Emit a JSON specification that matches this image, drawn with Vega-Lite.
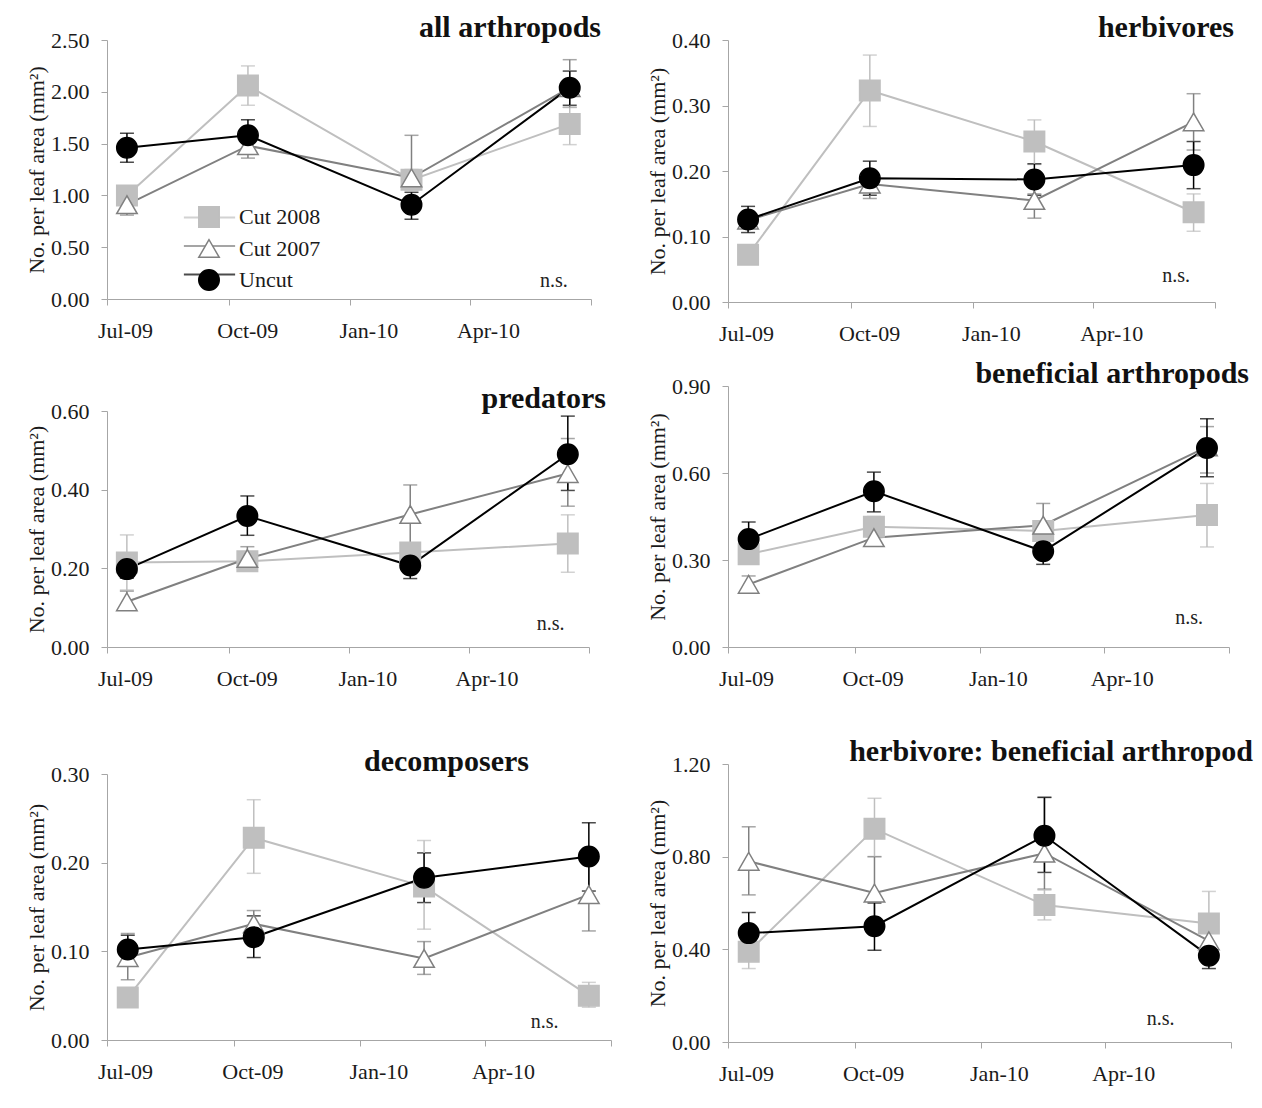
{
"$schema": "https://vega.github.io/schema/vega-lite/v6.json",
"padding": {"left": 25, "top": 13, "right": 5, "bottom": 5},
"background": "white",
"config": {
 "font": "Liberation Serif",
 "view": {"stroke": null},
 "axis": {"labelFont": "Liberation Serif", "labelFontSize": 22, "labelColor": "#1a1a1a", "titleFont": "Liberation Serif", "titleFontSize": 22, "titleFontWeight": "normal", "titleColor": "#1a1a1a", "domainColor": "#a6a6a6", "tickColor": "#a6a6a6", "grid": false, "tickSize": 6},
 "axisY": {"labelPadding": 12, "titlePadding": 2},
 "axisX": {"labelPadding": 15},
 "title": {"font": "Liberation Serif", "fontSize": 30, "fontWeight": "bold", "color": "#111111"}
},
"datasets": {"obs": [
{"panel":"all arthropods","series":"Cut 2008","date":"2009-07-02","mean":1.00,"lo":0.95,"hi":1.05},
{"panel":"all arthropods","series":"Cut 2008","date":"2009-10-01","mean":2.06,"lo":1.87,"hi":2.25},
{"panel":"all arthropods","series":"Cut 2008","date":"2010-02-01","mean":1.15,"lo":1.05,"hi":1.25},
{"panel":"all arthropods","series":"Cut 2008","date":"2010-05-31","mean":1.69,"lo":1.49,"hi":1.85},
{"panel":"all arthropods","series":"Cut 2007","date":"2009-07-02","mean":0.91,"lo":0.81,"hi":1.00},
{"panel":"all arthropods","series":"Cut 2007","date":"2009-10-01","mean":1.48,"lo":1.36,"hi":1.58},
{"panel":"all arthropods","series":"Cut 2007","date":"2010-02-01","mean":1.17,"lo":1.07,"hi":1.58},
{"panel":"all arthropods","series":"Cut 2007","date":"2010-05-31","mean":2.04,"lo":1.85,"hi":2.31},
{"panel":"all arthropods","series":"Uncut","date":"2009-07-02","mean":1.46,"lo":1.32,"hi":1.60},
{"panel":"all arthropods","series":"Uncut","date":"2009-10-01","mean":1.58,"lo":1.45,"hi":1.73},
{"panel":"all arthropods","series":"Uncut","date":"2010-02-01","mean":0.91,"lo":0.77,"hi":1.03},
{"panel":"all arthropods","series":"Uncut","date":"2010-05-31","mean":2.04,"lo":1.87,"hi":2.20},
{"panel":"herbivores","series":"Cut 2008","date":"2009-07-02","mean":0.072,"lo":0.066,"hi":0.078},
{"panel":"herbivores","series":"Cut 2008","date":"2009-10-01","mean":0.323,"lo":0.268,"hi":0.377},
{"panel":"herbivores","series":"Cut 2008","date":"2010-02-01","mean":0.245,"lo":0.21,"hi":0.278},
{"panel":"herbivores","series":"Cut 2008","date":"2010-05-31","mean":0.137,"lo":0.108,"hi":0.165},
{"panel":"herbivores","series":"Cut 2007","date":"2009-07-02","mean":0.125,"lo":0.115,"hi":0.135},
{"panel":"herbivores","series":"Cut 2007","date":"2009-10-01","mean":0.180,"lo":0.158,"hi":0.195},
{"panel":"herbivores","series":"Cut 2007","date":"2010-02-01","mean":0.155,"lo":0.128,"hi":0.165},
{"panel":"herbivores","series":"Cut 2007","date":"2010-05-31","mean":0.275,"lo":0.232,"hi":0.318},
{"panel":"herbivores","series":"Uncut","date":"2009-07-02","mean":0.126,"lo":0.106,"hi":0.146},
{"panel":"herbivores","series":"Uncut","date":"2009-10-01","mean":0.189,"lo":0.163,"hi":0.215},
{"panel":"herbivores","series":"Uncut","date":"2010-02-01","mean":0.187,"lo":0.163,"hi":0.211},
{"panel":"herbivores","series":"Uncut","date":"2010-05-31","mean":0.209,"lo":0.173,"hi":0.245},
{"panel":"predators","series":"Cut 2008","date":"2009-07-02","mean":0.215,"lo":0.145,"hi":0.285},
{"panel":"predators","series":"Cut 2008","date":"2009-10-01","mean":0.218,"lo":0.20,"hi":0.24},
{"panel":"predators","series":"Cut 2008","date":"2010-02-01","mean":0.24,"lo":0.22,"hi":0.26},
{"panel":"predators","series":"Cut 2008","date":"2010-05-31","mean":0.263,"lo":0.19,"hi":0.336},
{"panel":"predators","series":"Cut 2007","date":"2009-07-02","mean":0.115,"lo":0.10,"hi":0.142},
{"panel":"predators","series":"Cut 2007","date":"2009-10-01","mean":0.225,"lo":0.20,"hi":0.255},
{"panel":"predators","series":"Cut 2007","date":"2010-02-01","mean":0.337,"lo":0.26,"hi":0.412},
{"panel":"predators","series":"Cut 2007","date":"2010-05-31","mean":0.441,"lo":0.358,"hi":0.53},
{"panel":"predators","series":"Uncut","date":"2009-07-02","mean":0.198,"lo":0.175,"hi":0.22},
{"panel":"predators","series":"Uncut","date":"2009-10-01","mean":0.333,"lo":0.284,"hi":0.384},
{"panel":"predators","series":"Uncut","date":"2010-02-01","mean":0.207,"lo":0.174,"hi":0.23},
{"panel":"predators","series":"Uncut","date":"2010-05-31","mean":0.49,"lo":0.398,"hi":0.587},
{"panel":"beneficial arthropods","series":"Cut 2008","date":"2009-07-02","mean":0.32,"lo":0.29,"hi":0.35},
{"panel":"beneficial arthropods","series":"Cut 2008","date":"2009-10-01","mean":0.415,"lo":0.38,"hi":0.45},
{"panel":"beneficial arthropods","series":"Cut 2008","date":"2010-02-01","mean":0.40,"lo":0.37,"hi":0.43},
{"panel":"beneficial arthropods","series":"Cut 2008","date":"2010-05-31","mean":0.455,"lo":0.345,"hi":0.564},
{"panel":"beneficial arthropods","series":"Cut 2007","date":"2009-07-02","mean":0.216,"lo":0.19,"hi":0.245},
{"panel":"beneficial arthropods","series":"Cut 2007","date":"2009-10-01","mean":0.377,"lo":0.35,"hi":0.40},
{"panel":"beneficial arthropods","series":"Cut 2007","date":"2010-02-01","mean":0.42,"lo":0.37,"hi":0.495},
{"panel":"beneficial arthropods","series":"Cut 2007","date":"2010-05-31","mean":0.69,"lo":0.60,"hi":0.76},
{"panel":"beneficial arthropods","series":"Uncut","date":"2009-07-02","mean":0.372,"lo":0.33,"hi":0.431},
{"panel":"beneficial arthropods","series":"Uncut","date":"2009-10-01","mean":0.537,"lo":0.466,"hi":0.603},
{"panel":"beneficial arthropods","series":"Uncut","date":"2010-02-01","mean":0.33,"lo":0.285,"hi":0.36},
{"panel":"beneficial arthropods","series":"Uncut","date":"2010-05-31","mean":0.686,"lo":0.587,"hi":0.787},
{"panel":"decomposers","series":"Cut 2008","date":"2009-07-02","mean":0.048,"lo":0.04,"hi":0.056},
{"panel":"decomposers","series":"Cut 2008","date":"2009-10-01","mean":0.228,"lo":0.188,"hi":0.271},
{"panel":"decomposers","series":"Cut 2008","date":"2010-02-01","mean":0.173,"lo":0.125,"hi":0.225},
{"panel":"decomposers","series":"Cut 2008","date":"2010-05-31","mean":0.05,"lo":0.037,"hi":0.065},
{"panel":"decomposers","series":"Cut 2007","date":"2009-07-02","mean":0.093,"lo":0.068,"hi":0.12},
{"panel":"decomposers","series":"Cut 2007","date":"2009-10-01","mean":0.131,"lo":0.115,"hi":0.146},
{"panel":"decomposers","series":"Cut 2007","date":"2010-02-01","mean":0.092,"lo":0.074,"hi":0.111},
{"panel":"decomposers","series":"Cut 2007","date":"2010-05-31","mean":0.164,"lo":0.123,"hi":0.205},
{"panel":"decomposers","series":"Uncut","date":"2009-07-02","mean":0.102,"lo":0.088,"hi":0.118},
{"panel":"decomposers","series":"Uncut","date":"2009-10-01","mean":0.116,"lo":0.093,"hi":0.14},
{"panel":"decomposers","series":"Uncut","date":"2010-02-01","mean":0.183,"lo":0.155,"hi":0.211},
{"panel":"decomposers","series":"Uncut","date":"2010-05-31","mean":0.207,"lo":0.168,"hi":0.245},
{"panel":"herbivore: beneficial arthropod","series":"Cut 2008","date":"2009-07-02","mean":0.39,"lo":0.317,"hi":0.43},
{"panel":"herbivore: beneficial arthropod","series":"Cut 2008","date":"2009-10-01","mean":0.92,"lo":0.80,"hi":1.052},
{"panel":"herbivore: beneficial arthropod","series":"Cut 2008","date":"2010-02-01","mean":0.591,"lo":0.527,"hi":0.656},
{"panel":"herbivore: beneficial arthropod","series":"Cut 2008","date":"2010-05-31","mean":0.512,"lo":0.38,"hi":0.65},
{"panel":"herbivore: beneficial arthropod","series":"Cut 2007","date":"2009-07-02","mean":0.78,"lo":0.635,"hi":0.929},
{"panel":"herbivore: beneficial arthropod","series":"Cut 2007","date":"2009-10-01","mean":0.643,"lo":0.49,"hi":0.80},
{"panel":"herbivore: beneficial arthropod","series":"Cut 2007","date":"2010-02-01","mean":0.815,"lo":0.66,"hi":1.056},
{"panel":"herbivore: beneficial arthropod","series":"Cut 2007","date":"2010-05-31","mean":0.437,"lo":0.37,"hi":0.50},
{"panel":"herbivore: beneficial arthropod","series":"Uncut","date":"2009-07-02","mean":0.47,"lo":0.39,"hi":0.559},
{"panel":"herbivore: beneficial arthropod","series":"Uncut","date":"2009-10-01","mean":0.50,"lo":0.396,"hi":0.60},
{"panel":"herbivore: beneficial arthropod","series":"Uncut","date":"2010-02-01","mean":0.89,"lo":0.732,"hi":1.056},
{"panel":"herbivore: beneficial arthropod","series":"Uncut","date":"2010-05-31","mean":0.372,"lo":0.317,"hi":0.41}
]},
"resolve": {"scale": {"color": "independent", "fill": "independent", "stroke": "independent", "shape": "independent"}},
"spacing": 17,
"hconcat": [
{"spacing": 43,
 "resolve": {"scale": {"color": "independent", "fill": "independent", "stroke": "independent", "shape": "independent"}},
 "vconcat": [
 {"width": 484, "height": 259,
  "title": {"text": "all arthropods", "anchor": "end", "frame": "group", "dx": 10, "offset": -38, "baseline": "alphabetic"},
  "data": {"name": "obs"},
  "transform": [{"filter": "datum.panel === 'all arthropods'"}],
  "encoding": {
   "x": {"field": "date", "type": "temporal", "title": null, "scale": {"type": "utc", "domain": [{"year": 2009, "month": 6, "date": 17, "utc": true}, {"year": 2010, "month": 6, "date": 16, "utc": true}]}, "axis": {"values": [{"year": 2009, "month": 6, "date": 17, "utc": true}, {"year": 2009, "month": 9, "date": 17, "utc": true}, {"year": 2009, "month": 12, "date": 17, "utc": true}, {"year": 2010, "month": 3, "date": 17, "utc": true}, {"year": 2010, "month": 6, "date": 16, "utc": true}], "labelExpr": "datum.value > 1275000000000 ? '' : utcFormat(datum.value + 1296000000, '%b-%y')", "labelOffset": 18, "labelFlush": false, "labelOverlap": false}},
   "y": {"field": "mean", "type": "quantitative", "title": "No. per leaf area (mm²)", "scale": {"domain": [0, 2.5]}, "axis": {"values": [0, 0.5, 1, 1.5, 2, 2.5], "format": ".2f"}}
  },
  "layer": [
   {"mark": {"type": "errorbar", "ticks": {"size": 14}, "thickness": 1.5},
    "encoding": {"y": {"field": "lo", "type": "quantitative", "title": "No. per leaf area (mm²)", "scale": {"domain": [0, 2.5]}, "axis": {"values": [0, 0.5, 1, 1.5, 2, 2.5], "format": ".2f"}}, "y2": {"field": "hi"},
     "color": {"field": "series", "type": "nominal", "sort": ["Cut 2008", "Cut 2007", "Uncut"], "scale": {"range": ["#bfbfbf", "#808080", "#000000"]}}}},
   {"mark": {"type": "line", "strokeWidth": 2},
    "encoding": {"color": {"field": "series", "type": "nominal", "sort": ["Cut 2008", "Cut 2007", "Uncut"], "scale": {"range": ["#bfbfbf", "#808080", "#000000"]},
     "legend": {"orient": "none", "legendX": 91, "legendY": 166, "title": null, "symbolType": "M-2.5,0H2.5", "symbolSize": 420, "symbolStrokeWidth": 2, "symbolFillColor": "transparent", "labelFontSize": 22, "labelFont": "Liberation Serif", "labelColor": "transparent", "labelExpr": "''", "labelOffset": 19, "rowPadding": 5.5, "padding": 0}}}},
   {"mark": {"type": "point", "filled": true, "size": 420, "strokeWidth": 1.5, "opacity": 1},
    "encoding": {
     "shape": {"field": "series", "type": "nominal", "scale": {"domain": ["Cut 2008", "Cut 2007", "Uncut"], "range": ["square", "triangle-up", "circle"]},
      "legend": {"orient": "none", "legendX": 91, "legendY": 166, "title": null, "symbolSize": 420, "symbolStrokeWidth": 1.5, "labelFontSize": 22, "labelFont": "Liberation Serif", "labelColor": "#1a1a1a", "labelOffset": 19, "rowPadding": 5.5, "padding": 0}},
     "fill": {"field": "series", "type": "nominal", "scale": {"domain": ["Cut 2008", "Cut 2007", "Uncut"], "range": ["#bfbfbf", "#ffffff", "#000000"]}},
     "stroke": {"field": "series", "type": "nominal", "scale": {"domain": ["Cut 2008", "Cut 2007", "Uncut"], "range": ["#bfbfbf", "#808080", "#000000"]}}}},
   {"transform": [{"window": [{"op": "row_number", "as": "rn"}]}, {"filter": "datum.rn === 1"}],
    "mark": {"type": "text", "fontSize": 20, "font": "Liberation Serif", "color": "#222222", "text": "n.s."},
    "encoding": {"x": {"datum": {"year": 2010, "month": 5, "date": 19, "utc": true}, "type": "temporal"}, "y": {"datum": 0.17, "type": "quantitative"}}}
  ]},
 {"spacing": 58,
  "resolve": {"scale": {"color": "independent", "fill": "independent", "stroke": "independent", "shape": "independent"}},
  "vconcat": [
  {"width": 482, "height": 236,
   "title": {"text": "predators", "anchor": "end", "frame": "group", "dx": 17, "offset": -38, "baseline": "alphabetic"},
   "data": {"name": "obs"},
   "transform": [{"filter": "datum.panel === 'predators'"}],
   "encoding": {
    "x": {"field": "date", "type": "temporal", "title": null, "scale": {"type": "utc", "domain": [{"year": 2009, "month": 6, "date": 17, "utc": true}, {"year": 2010, "month": 6, "date": 16, "utc": true}]}, "axis": {"values": [{"year": 2009, "month": 6, "date": 17, "utc": true}, {"year": 2009, "month": 9, "date": 17, "utc": true}, {"year": 2009, "month": 12, "date": 17, "utc": true}, {"year": 2010, "month": 3, "date": 17, "utc": true}, {"year": 2010, "month": 6, "date": 16, "utc": true}], "labelExpr": "datum.value > 1275000000000 ? '' : utcFormat(datum.value + 1296000000, '%b-%y')", "labelOffset": 18, "labelFlush": false, "labelOverlap": false}},
    "y": {"field": "mean", "type": "quantitative", "title": "No. per leaf area (mm²)", "scale": {"domain": [0, 0.6]}, "axis": {"values": [0, 0.2, 0.4, 0.6], "format": ".2f"}}
   },
   "layer": [
    {"mark": {"type": "errorbar", "ticks": {"size": 14}, "thickness": 1.5},
     "encoding": {"y": {"field": "lo", "type": "quantitative", "title": "No. per leaf area (mm²)", "scale": {"domain": [0, 0.6]}, "axis": {"values": [0, 0.2, 0.4, 0.6], "format": ".2f"}}, "y2": {"field": "hi"},
      "color": {"field": "series", "type": "nominal", "sort": ["Cut 2008", "Cut 2007", "Uncut"], "scale": {"range": ["#bfbfbf", "#808080", "#000000"]}, "legend": null}}},
    {"mark": {"type": "line", "strokeWidth": 2},
     "encoding": {"color": {"field": "series", "type": "nominal", "sort": ["Cut 2008", "Cut 2007", "Uncut"], "scale": {"range": ["#bfbfbf", "#808080", "#000000"]}, "legend": null}}},
    {"mark": {"type": "point", "filled": true, "size": 420, "strokeWidth": 1.5, "opacity": 1},
     "encoding": {
      "shape": {"field": "series", "type": "nominal", "scale": {"domain": ["Cut 2008", "Cut 2007", "Uncut"], "range": ["square", "triangle-up", "circle"]}, "legend": null},
      "fill": {"field": "series", "type": "nominal", "scale": {"domain": ["Cut 2008", "Cut 2007", "Uncut"], "range": ["#bfbfbf", "#ffffff", "#000000"]}, "legend": null},
      "stroke": {"field": "series", "type": "nominal", "scale": {"domain": ["Cut 2008", "Cut 2007", "Uncut"], "range": ["#bfbfbf", "#808080", "#000000"]}, "legend": null}}},
    {"transform": [{"window": [{"op": "row_number", "as": "rn"}]}, {"filter": "datum.rn === 1"}],
     "mark": {"type": "text", "fontSize": 20, "font": "Liberation Serif", "color": "#222222", "text": "n.s."},
     "encoding": {"x": {"datum": {"year": 2010, "month": 5, "date": 18, "utc": true}, "type": "temporal"}, "y": {"datum": 0.058, "type": "quantitative"}}}
   ]},
  {"width": 504, "height": 266,
   "title": {"text": "decomposers", "anchor": "end", "frame": "group", "dx": -82, "offset": -38, "baseline": "alphabetic"},
   "data": {"name": "obs"},
   "transform": [{"filter": "datum.panel === 'decomposers'"}],
   "encoding": {
    "x": {"field": "date", "type": "temporal", "title": null, "scale": {"type": "utc", "domain": [{"year": 2009, "month": 6, "date": 17, "utc": true}, {"year": 2010, "month": 6, "date": 16, "utc": true}]}, "axis": {"values": [{"year": 2009, "month": 6, "date": 17, "utc": true}, {"year": 2009, "month": 9, "date": 17, "utc": true}, {"year": 2009, "month": 12, "date": 17, "utc": true}, {"year": 2010, "month": 3, "date": 17, "utc": true}, {"year": 2010, "month": 6, "date": 16, "utc": true}], "labelExpr": "datum.value > 1275000000000 ? '' : utcFormat(datum.value + 1296000000, '%b-%y')", "labelOffset": 18, "labelFlush": false, "labelOverlap": false}},
    "y": {"field": "mean", "type": "quantitative", "title": "No. per leaf area (mm²)", "scale": {"domain": [0, 0.3]}, "axis": {"values": [0, 0.1, 0.2, 0.3], "format": ".2f"}}
   },
   "layer": [
    {"mark": {"type": "errorbar", "ticks": {"size": 14}, "thickness": 1.5},
     "encoding": {"y": {"field": "lo", "type": "quantitative", "title": "No. per leaf area (mm²)", "scale": {"domain": [0, 0.3]}, "axis": {"values": [0, 0.1, 0.2, 0.3], "format": ".2f"}}, "y2": {"field": "hi"},
      "color": {"field": "series", "type": "nominal", "sort": ["Cut 2008", "Cut 2007", "Uncut"], "scale": {"range": ["#bfbfbf", "#808080", "#000000"]}, "legend": null}}},
    {"mark": {"type": "line", "strokeWidth": 2},
     "encoding": {"color": {"field": "series", "type": "nominal", "sort": ["Cut 2008", "Cut 2007", "Uncut"], "scale": {"range": ["#bfbfbf", "#808080", "#000000"]}, "legend": null}}},
    {"mark": {"type": "point", "filled": true, "size": 420, "strokeWidth": 1.5, "opacity": 1},
     "encoding": {
      "shape": {"field": "series", "type": "nominal", "scale": {"domain": ["Cut 2008", "Cut 2007", "Uncut"], "range": ["square", "triangle-up", "circle"]}, "legend": null},
      "fill": {"field": "series", "type": "nominal", "scale": {"domain": ["Cut 2008", "Cut 2007", "Uncut"], "range": ["#bfbfbf", "#ffffff", "#000000"]}, "legend": null},
      "stroke": {"field": "series", "type": "nominal", "scale": {"domain": ["Cut 2008", "Cut 2007", "Uncut"], "range": ["#bfbfbf", "#808080", "#000000"]}, "legend": null}}},
    {"transform": [{"window": [{"op": "row_number", "as": "rn"}]}, {"filter": "datum.rn === 1"}],
     "mark": {"type": "text", "fontSize": 20, "font": "Liberation Serif", "color": "#222222", "text": "n.s."},
     "encoding": {"x": {"datum": {"year": 2010, "month": 4, "date": 29, "utc": true}, "type": "temporal"}, "y": {"datum": 0.02, "type": "quantitative"}}}
   ]}
  ]}
 ]},
{"spacing": 15,
 "resolve": {"scale": {"color": "independent", "fill": "independent", "stroke": "independent", "shape": "independent"}},
 "vconcat": [
 {"width": 487, "height": 262,
  "title": {"text": "herbivores", "anchor": "end", "frame": "group", "dx": 19, "offset": -38, "baseline": "alphabetic"},
  "data": {"name": "obs"},
  "transform": [{"filter": "datum.panel === 'herbivores'"}],
  "encoding": {
   "x": {"field": "date", "type": "temporal", "title": null, "scale": {"type": "utc", "domain": [{"year": 2009, "month": 6, "date": 17, "utc": true}, {"year": 2010, "month": 6, "date": 16, "utc": true}]}, "axis": {"values": [{"year": 2009, "month": 6, "date": 17, "utc": true}, {"year": 2009, "month": 9, "date": 17, "utc": true}, {"year": 2009, "month": 12, "date": 17, "utc": true}, {"year": 2010, "month": 3, "date": 17, "utc": true}, {"year": 2010, "month": 6, "date": 16, "utc": true}], "labelExpr": "datum.value > 1275000000000 ? '' : utcFormat(datum.value + 1296000000, '%b-%y')", "labelOffset": 18, "labelFlush": false, "labelOverlap": false}},
   "y": {"field": "mean", "type": "quantitative", "title": "No. per leaf area (mm²)", "scale": {"domain": [0, 0.4]}, "axis": {"values": [0, 0.1, 0.2, 0.3, 0.4], "format": ".2f"}}
  },
  "layer": [
   {"mark": {"type": "errorbar", "ticks": {"size": 14}, "thickness": 1.5},
    "encoding": {"y": {"field": "lo", "type": "quantitative", "title": "No. per leaf area (mm²)", "scale": {"domain": [0, 0.4]}, "axis": {"values": [0, 0.1, 0.2, 0.3, 0.4], "format": ".2f"}}, "y2": {"field": "hi"},
     "color": {"field": "series", "type": "nominal", "sort": ["Cut 2008", "Cut 2007", "Uncut"], "scale": {"range": ["#bfbfbf", "#808080", "#000000"]}, "legend": null}}},
   {"mark": {"type": "line", "strokeWidth": 2},
    "encoding": {"color": {"field": "series", "type": "nominal", "sort": ["Cut 2008", "Cut 2007", "Uncut"], "scale": {"range": ["#bfbfbf", "#808080", "#000000"]}, "legend": null}}},
   {"mark": {"type": "point", "filled": true, "size": 420, "strokeWidth": 1.5, "opacity": 1},
    "encoding": {
     "shape": {"field": "series", "type": "nominal", "scale": {"domain": ["Cut 2008", "Cut 2007", "Uncut"], "range": ["square", "triangle-up", "circle"]}, "legend": null},
     "fill": {"field": "series", "type": "nominal", "scale": {"domain": ["Cut 2008", "Cut 2007", "Uncut"], "range": ["#bfbfbf", "#ffffff", "#000000"]}, "legend": null},
     "stroke": {"field": "series", "type": "nominal", "scale": {"domain": ["Cut 2008", "Cut 2007", "Uncut"], "range": ["#bfbfbf", "#808080", "#000000"]}, "legend": null}}},
   {"transform": [{"window": [{"op": "row_number", "as": "rn"}]}, {"filter": "datum.rn === 1"}],
    "mark": {"type": "text", "fontSize": 20, "font": "Liberation Serif", "color": "#222222", "text": "n.s."},
    "encoding": {"x": {"datum": {"year": 2010, "month": 5, "date": 18, "utc": true}, "type": "temporal"}, "y": {"datum": 0.04, "type": "quantitative"}}}
  ]},
 {"spacing": 48,
  "resolve": {"scale": {"color": "independent", "fill": "independent", "stroke": "independent", "shape": "independent"}},
  "vconcat": [
  {"width": 501, "height": 261,
   "title": {"text": "beneficial arthropods", "anchor": "end", "frame": "group", "dx": 20, "offset": -38, "baseline": "alphabetic"},
   "data": {"name": "obs"},
   "transform": [{"filter": "datum.panel === 'beneficial arthropods'"}],
   "encoding": {
    "x": {"field": "date", "type": "temporal", "title": null, "scale": {"type": "utc", "domain": [{"year": 2009, "month": 6, "date": 17, "utc": true}, {"year": 2010, "month": 6, "date": 16, "utc": true}]}, "axis": {"values": [{"year": 2009, "month": 6, "date": 17, "utc": true}, {"year": 2009, "month": 9, "date": 17, "utc": true}, {"year": 2009, "month": 12, "date": 17, "utc": true}, {"year": 2010, "month": 3, "date": 17, "utc": true}, {"year": 2010, "month": 6, "date": 16, "utc": true}], "labelExpr": "datum.value > 1275000000000 ? '' : utcFormat(datum.value + 1296000000, '%b-%y')", "labelOffset": 18, "labelFlush": false, "labelOverlap": false}},
    "y": {"field": "mean", "type": "quantitative", "title": "No. per leaf area (mm²)", "scale": {"domain": [0, 0.9]}, "axis": {"values": [0, 0.3, 0.6, 0.9], "format": ".2f"}}
   },
   "layer": [
    {"mark": {"type": "errorbar", "ticks": {"size": 14}, "thickness": 1.5},
     "encoding": {"y": {"field": "lo", "type": "quantitative", "title": "No. per leaf area (mm²)", "scale": {"domain": [0, 0.9]}, "axis": {"values": [0, 0.3, 0.6, 0.9], "format": ".2f"}}, "y2": {"field": "hi"},
      "color": {"field": "series", "type": "nominal", "sort": ["Cut 2008", "Cut 2007", "Uncut"], "scale": {"range": ["#bfbfbf", "#808080", "#000000"]}, "legend": null}}},
    {"mark": {"type": "line", "strokeWidth": 2},
     "encoding": {"color": {"field": "series", "type": "nominal", "sort": ["Cut 2008", "Cut 2007", "Uncut"], "scale": {"range": ["#bfbfbf", "#808080", "#000000"]}, "legend": null}}},
    {"mark": {"type": "point", "filled": true, "size": 420, "strokeWidth": 1.5, "opacity": 1},
     "encoding": {
      "shape": {"field": "series", "type": "nominal", "scale": {"domain": ["Cut 2008", "Cut 2007", "Uncut"], "range": ["square", "triangle-up", "circle"]}, "legend": null},
      "fill": {"field": "series", "type": "nominal", "scale": {"domain": ["Cut 2008", "Cut 2007", "Uncut"], "range": ["#bfbfbf", "#ffffff", "#000000"]}, "legend": null},
      "stroke": {"field": "series", "type": "nominal", "scale": {"domain": ["Cut 2008", "Cut 2007", "Uncut"], "range": ["#bfbfbf", "#808080", "#000000"]}, "legend": null}}},
    {"transform": [{"window": [{"op": "row_number", "as": "rn"}]}, {"filter": "datum.rn === 1"}],
     "mark": {"type": "text", "fontSize": 20, "font": "Liberation Serif", "color": "#222222", "text": "n.s."},
     "encoding": {"x": {"datum": {"year": 2010, "month": 5, "date": 18, "utc": true}, "type": "temporal"}, "y": {"datum": 0.10, "type": "quantitative"}}}
   ]},
  {"width": 503, "height": 278,
   "title": {"text": "herbivore: beneficial arthropod", "anchor": "end", "frame": "group", "dx": 22, "offset": -38, "baseline": "alphabetic"},
   "data": {"name": "obs"},
   "transform": [{"filter": "datum.panel === 'herbivore: beneficial arthropod'"}],
   "encoding": {
    "x": {"field": "date", "type": "temporal", "title": null, "scale": {"type": "utc", "domain": [{"year": 2009, "month": 6, "date": 17, "utc": true}, {"year": 2010, "month": 6, "date": 16, "utc": true}]}, "axis": {"values": [{"year": 2009, "month": 6, "date": 17, "utc": true}, {"year": 2009, "month": 9, "date": 17, "utc": true}, {"year": 2009, "month": 12, "date": 17, "utc": true}, {"year": 2010, "month": 3, "date": 17, "utc": true}, {"year": 2010, "month": 6, "date": 16, "utc": true}], "labelExpr": "datum.value > 1275000000000 ? '' : utcFormat(datum.value + 1296000000, '%b-%y')", "labelOffset": 18, "labelFlush": false, "labelOverlap": false}},
    "y": {"field": "mean", "type": "quantitative", "title": "No. per leaf area (mm²)", "scale": {"domain": [0, 1.2]}, "axis": {"values": [0, 0.4, 0.8, 1.2], "format": ".2f"}}
   },
   "layer": [
    {"mark": {"type": "errorbar", "ticks": {"size": 14}, "thickness": 1.5},
     "encoding": {"y": {"field": "lo", "type": "quantitative", "title": "No. per leaf area (mm²)", "scale": {"domain": [0, 1.2]}, "axis": {"values": [0, 0.4, 0.8, 1.2], "format": ".2f"}}, "y2": {"field": "hi"},
      "color": {"field": "series", "type": "nominal", "sort": ["Cut 2008", "Cut 2007", "Uncut"], "scale": {"range": ["#bfbfbf", "#808080", "#000000"]}, "legend": null}}},
    {"mark": {"type": "line", "strokeWidth": 2},
     "encoding": {"color": {"field": "series", "type": "nominal", "sort": ["Cut 2008", "Cut 2007", "Uncut"], "scale": {"range": ["#bfbfbf", "#808080", "#000000"]}, "legend": null}}},
    {"mark": {"type": "point", "filled": true, "size": 420, "strokeWidth": 1.5, "opacity": 1},
     "encoding": {
      "shape": {"field": "series", "type": "nominal", "scale": {"domain": ["Cut 2008", "Cut 2007", "Uncut"], "range": ["square", "triangle-up", "circle"]}, "legend": null},
      "fill": {"field": "series", "type": "nominal", "scale": {"domain": ["Cut 2008", "Cut 2007", "Uncut"], "range": ["#bfbfbf", "#ffffff", "#000000"]}, "legend": null},
      "stroke": {"field": "series", "type": "nominal", "scale": {"domain": ["Cut 2008", "Cut 2007", "Uncut"], "range": ["#bfbfbf", "#808080", "#000000"]}, "legend": null}}},
    {"transform": [{"window": [{"op": "row_number", "as": "rn"}]}, {"filter": "datum.rn === 1"}],
     "mark": {"type": "text", "fontSize": 20, "font": "Liberation Serif", "color": "#222222", "text": "n.s."},
     "encoding": {"x": {"datum": {"year": 2010, "month": 4, "date": 26, "utc": true}, "type": "temporal"}, "y": {"datum": 0.098, "type": "quantitative"}}}
   ]}
  ]}
 ]}
]
}
